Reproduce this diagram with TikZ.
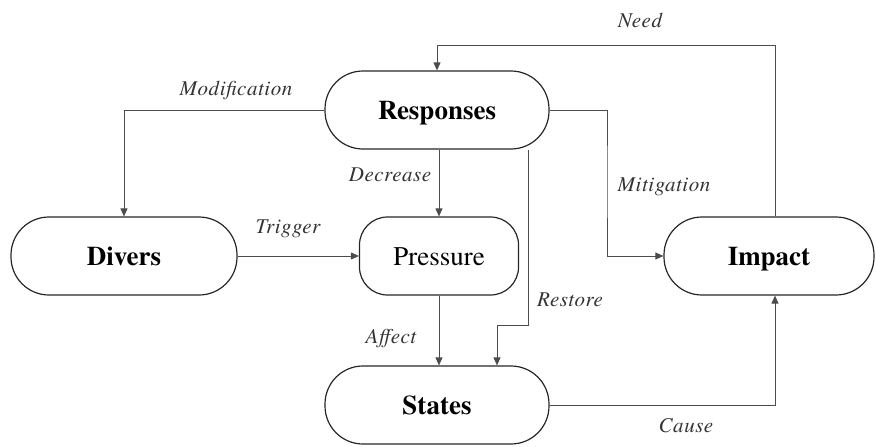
\documentclass[tikz,border=0pt]{standalone}
\usepackage{fontspec}
\newfontfamily\tnr{TeX Gyre Termes}
\newfontfamily\tnrlbl{TeX Gyre Termes}[LetterSpace=2.5]
\usetikzlibrary{arrows.meta,calc}
\begin{document}
\begin{tikzpicture}[x=1pt,y=-1pt,
  blk/.style={draw=black!85,line width=1.2pt,rounded corners=38pt,minimum width=224pt,minimum height=78pt,inner sep=0pt,text height=18pt,text depth=0pt,font=\tnr\fontsize{27}{30}\selectfont\bfseries},
  conn/.style={draw=black!70,line width=0.9pt,-{Triangle[length=8pt,width=7pt]}},
  lbl/.style={font=\tnrlbl\fontsize{21}{24}\selectfont\itshape,text=black!80,inner sep=0pt}]
\useasboundingbox (0,0) rectangle (876,447);
\node[blk] (resp) at (437,110) {Responses};
\node[blk,minimum width=226pt] (div) at (124,256) {Divers};
\node[blk,minimum width=159pt,rounded corners=28pt,font=\tnr\fontsize{27}{30}\selectfont] (pres) at (439,256) {Pressure};
\node[blk] (states) at (437,405) {States};
\node[blk,minimum width=210pt] (imp) at (769,256) {Impact};
\coordinate (rs) at (528,325);
\coordinate (mg) at (607,180);
\coordinate (nd) at (775,45);
% connectors
\draw[conn] (resp.west) -| (div.north);
\draw[conn] (resp.south -| pres.north) -- (pres.north);
\draw[conn] (div.east) -- (pres.west);
\draw[conn] (rs |- resp.south) -- (rs) -| ([xshift=60pt]states.north);
\draw[conn] (pres.south) -- (pres.south |- states.north);
\draw[conn] (resp.east) -| (mg) |- (imp.west);
\draw[conn] ([xshift=6pt]imp.north) |- (nd) -| (resp.north);
\draw[conn] (states.east) -| ([xshift=6pt]imp.south);
% labels
\node[lbl] (lneed) at (640,20) {Need};
\node[lbl] (lmod) at (236,91) {Modification};
\node[lbl] (ldec) at (390,175) {Decrease};
\node[lbl] (lmit) at (664,187) {Mitigation};
\node[lbl] (ltrig) at (288,229) {Trigger};
\node[lbl] (lres) at (570,300) {Restore};
\node[lbl] (laff) at (391,339) {Affect};
\node[lbl] (lcau) at (686,426) {Cause};
\end{tikzpicture}
\end{document}
